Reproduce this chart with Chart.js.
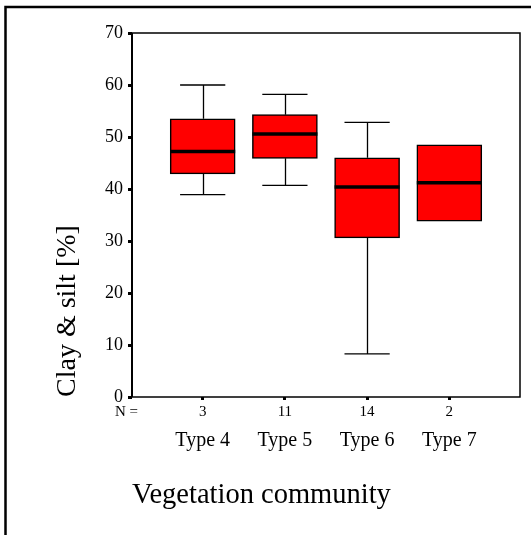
<!DOCTYPE html>
<html>
<head>
<meta charset="utf-8">
<script src="https://cdn.jsdelivr.net/npm/chart.js@4"></script>
<style>
  html, body { margin: 0; padding: 0; background: #fff; }
</style>
</head>
<body>
<canvas id="boxChart" width="531" height="535"></canvas>
<script>
// values
const categories = ["Type 4", "Type 5", "Type 6", "Type 7"];
const nCounts = [3, 11, 14, 2];
const whiskerLow = [38.9, 40.7, 8.3, 33.8];
const q1 = [42.9, 45.9, 30.6, 33.8];
const median = [47.2, 50.6, 40.4, 41.2];
const q3 = [53.5, 54.3, 46.0, 48.5];
const whiskerHigh = [60.0, 58.2, 52.8, 48.5];

const serif = "'Liberation Serif', 'Times New Roman', serif";
const capHalf = 0.275; // half width of whisker caps, in category units

// whiskers, medians, plot frame and the outer border
const boxExtras = {
    id: "boxExtras",
    beforeDraw(chart) {
        const ctx = chart.ctx;
        ctx.save();
        ctx.fillStyle = "#fff";
        ctx.fillRect(0, 0, chart.width, chart.height);
        ctx.strokeStyle = "#000";
        ctx.lineWidth = 2.5;
        ctx.beginPath();
        ctx.moveTo(5.5, chart.height + 5);
        ctx.lineTo(5.5, 7);
        ctx.lineTo(chart.width + 5, 7);
        ctx.stroke();
        ctx.restore();
    },
    beforeDatasetsDraw(chart) {
        const { ctx, scales: { x, y } } = chart;
        ctx.save();
        ctx.strokeStyle = "#000";
        ctx.lineWidth = 1.3;
        categories.forEach((c, i) => {
            const cx = Math.round(x.getPixelForValue(i)) + 0.5;
            const l = x.getPixelForValue(i - capHalf);
            const r = x.getPixelForValue(i + capHalf);
            ctx.beginPath();
            if (whiskerHigh[i] > q3[i]) {
                const yh = y.getPixelForValue(whiskerHigh[i]);
                ctx.moveTo(cx, y.getPixelForValue(q3[i]));
                ctx.lineTo(cx, yh);
                ctx.moveTo(l, yh);
                ctx.lineTo(r, yh);
            }
            if (whiskerLow[i] < q1[i]) {
                const yl = y.getPixelForValue(whiskerLow[i]);
                ctx.moveTo(cx, y.getPixelForValue(q1[i]));
                ctx.lineTo(cx, yl);
                ctx.moveTo(l, yl);
                ctx.lineTo(r, yl);
            }
            ctx.stroke();
        });
        ctx.restore();
    },
    afterDatasetsDraw(chart) {
        const { ctx, chartArea, scales: { x, y } } = chart;
        const bars = chart.getDatasetMeta(0).data;
        ctx.save();
        ctx.strokeStyle = "#000";
        ctx.lineWidth = 3.5;
        bars.forEach((bar, i) => {
            const ym = y.getPixelForValue(median[i]);
            ctx.beginPath();
            ctx.moveTo(bar.x - bar.width / 2, ym);
            ctx.lineTo(bar.x + bar.width / 2, ym);
            ctx.stroke();
        });

        ctx.lineWidth = 1.5;
        ctx.strokeRect(chartArea.left, chartArea.top, chartArea.right - chartArea.left, chartArea.bottom - chartArea.top);
        ctx.lineWidth = 2;
        ctx.beginPath();
        ctx.moveTo(chartArea.left, chartArea.top);
        ctx.lineTo(chartArea.left, chartArea.bottom);
        ctx.stroke();

        ctx.fillStyle = "#000";
        ctx.font = "15px " + serif;
        ctx.textAlign = "left";
        ctx.textBaseline = "middle";
        ctx.fillText("N =", 115, x.top + 15);
        ctx.restore();
    }
};

const ctx = document.getElementById("boxChart").getContext("2d");

new Chart(ctx, {
    type: "bar",
    data: {
        datasets: [{
            data: categories.map((c, i) => ({ x: i, y: [q1[i], q3[i]] })),
            backgroundColor: "#ff0000",
            borderColor: "#000",
            borderWidth: 1.5,
            borderSkipped: false,
            barThickness: 65
        }]
    },
    options: {
        responsive: false,
        animation: false,
        layout: { padding: { top: 33, right: 11, left: 0, bottom: 0 } },
        plugins: {
            legend: { display: false },
            tooltip: { enabled: false }
        },
        scales: {
            x: {
                type: "linear",
                position: "bottom",
                weight: 0,
                offset: false,
                min: -0.86,
                max: 3.86,
                afterBuildTicks: s => { s.ticks = categories.map((c, i) => ({ value: i })); },
                afterFit: s => { s.height = 25; },
                ticks: {
                    callback: v => nCounts[v],
                    font: { family: serif, size: 15 },
                    color: "#000",
                    padding: 3,
                    maxRotation: 0,
                    autoSkip: false
                },
                grid: { offset: false, drawOnChartArea: false, drawTicks: true, tickLength: 3, tickWidth: 3, tickColor: "#000" },
                border: { display: false }
            },
            x2: {
                type: "linear",
                axis: "x",
                position: "bottom",
                weight: 1,
                offset: false,
                min: -0.86,
                max: 3.86,
                afterBuildTicks: s => { s.ticks = categories.map((c, i) => ({ value: i })); },
                afterFit: s => { s.height = 113; },
                ticks: {
                    callback: v => categories[v],
                    font: { family: serif, size: 20 },
                    color: "#000",
                    padding: 7,
                    maxRotation: 0,
                    autoSkip: false
                },
                grid: { offset: false, display: false, drawTicks: false },
                border: { display: false },
                title: {
                    display: true,
                    text: "Vegetation community",
                    align: "start",
                    color: "#000",
                    font: { family: serif, size: 28.5 },
                    padding: { top: 0, bottom: 22 }
                }
            },
            y: {
                min: 0,
                max: 70,
                position: "left",
                afterFit: s => { s.width = 132; },
                ticks: {
                    stepSize: 10,
                    font: { family: serif, size: 18 },
                    color: "#000",
                    padding: 5
                },
                grid: { drawOnChartArea: false, tickLength: 4, tickWidth: 3, tickColor: "#000" },
                border: { display: false },
                title: {
                    display: true,
                    text: "Clay & silt [%]",
                    align: "start",
                    color: "#000",
                    font: { family: serif, size: 28 },
                    padding: { top: 51, bottom: 0 }
                }
            }
        }
    },
    plugins: [boxExtras]
});
</script>
</body>
</html>
